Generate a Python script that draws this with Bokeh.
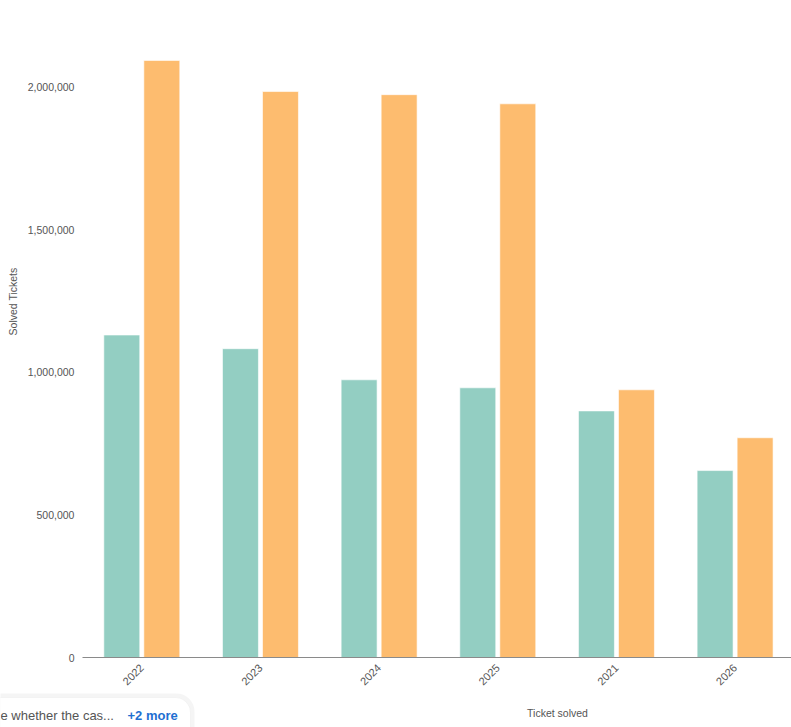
import math
from bokeh.plotting import figure
from bokeh.models import (ColumnDataSource, Range1d, FixedTicker, LinearAxis,
                          NumeralTickFormatter, Label, BoxAnnotation)
from bokeh.transform import dodge
from bokeh.embed import file_html
from bokeh.resources import INLINE

# ---- data ----
years = ["2022", "2023", "2024", "2025", "2021", "2026"]
series_a = [1131000, 1083000, 974000, 946000, 865000, 656000]
series_b = [2093000, 1984000, 1973000, 1941000, 939000, 771000]
y_ticks = [0, 500000, 1000000, 1500000, 2000000]

TEAL = "#93CEC2"
ORANGE = "#FDBC6F"
FONT = "Liberation Sans"

idx = list(range(len(years)))
source = ColumnDataSource(dict(idx=idx, year=years, a=series_a, b=series_b))

X0, X1 = -1.1908, 5.4753
p = figure(width=791, height=727, x_range=Range1d(X0, X1),
           y_range=Range1d(-244200, 2303000), output_backend="svg",
           toolbar_location=None, min_border=0,
           x_axis_type=None, y_axis_type=None)
p.outline_line_color = None
p.background_fill_color = "white"

p.vbar(x=dodge("idx", -0.1686), top="a", width=0.303, source=source,
       fill_color=TEAL, line_color="white", line_alpha=0.6, line_width=1)
p.vbar(x=dodge("idx", 0.1686), top="b", width=0.303, source=source,
       fill_color=ORANGE, line_color="white", line_alpha=0.6, line_width=1)

# axes drawn at fixed places inside the full-size frame
yaxis = LinearAxis(ticker=FixedTicker(ticks=y_ticks),
                   formatter=NumeralTickFormatter(format="0,0"),
                   fixed_location=-0.5)
yaxis.axis_line_color = None
yaxis.major_tick_line_color = None
yaxis.minor_tick_line_color = None
yaxis.major_tick_out = 0
yaxis.major_tick_in = 0
yaxis.minor_tick_out = 0
yaxis.major_label_standoff = 8
yaxis.major_label_text_font = FONT
yaxis.major_label_text_font_size = "10.5px"
yaxis.major_label_text_color = "#555555"
p.add_layout(yaxis, "left")

xaxis = LinearAxis(ticker=FixedTicker(ticks=idx),
                   major_label_overrides={i: y for i, y in zip(idx, years)},
                   fixed_location=0, bounds=(-0.5, X1))
xaxis.axis_line_color = "#8a8a8a"
xaxis.axis_line_width = 1
xaxis.major_tick_line_color = None
xaxis.minor_tick_line_color = None
xaxis.major_label_orientation = math.pi / 4
xaxis.major_label_standoff = 2
xaxis.major_label_text_font = FONT
xaxis.major_label_text_font_size = "11px"
xaxis.major_label_text_color = "#555555"
p.add_layout(xaxis, "below")

# horizontal grid lines (only right of the value axis)
p.ygrid.grid_line_color = "#e6e6eb"
p.ygrid.ticker = FixedTicker(ticks=y_ticks)
p.ygrid.grid_line_width = 1
p.xgrid.grid_line_color = None
p.add_layout(BoxAnnotation(right=-0.5, fill_color="white", fill_alpha=1.0,
                           line_color=None, level="underlay"))

# axis titles
p.add_layout(Label(x=12.5, y=426, x_units="screen", y_units="screen",
                   text="Solved Tickets", angle=math.pi / 2,
                   text_align="center", text_baseline="middle",
                   text_font=FONT, text_font_size="10.5px",
                   text_color="#555555"))
p.add_layout(Label(x=557, y=15, x_units="screen", y_units="screen",
                   text="Ticket solved", text_align="center",
                   text_baseline="middle", text_font=FONT,
                   text_font_size="10.5px", text_color="#555555"))

# popup chip at bottom-left
p.add_layout(BoxAnnotation(left=-30, right=194, top=34, bottom=-30,
                           left_units="screen", right_units="screen",
                           top_units="screen", bottom_units="screen",
                           fill_color="#000000", fill_alpha=0.04,
                           line_color=None, border_radius=18))
p.add_layout(BoxAnnotation(left=-30, right=190, top=30, bottom=-30,
                           left_units="screen", right_units="screen",
                           top_units="screen", bottom_units="screen",
                           fill_color="white", fill_alpha=1.0,
                           line_color="#e4e4e4", line_width=1,
                           border_radius=15))
p.add_layout(Label(x=0, y=12, x_units="screen", y_units="screen",
                   text="e whether the cas...", text_align="left",
                   text_baseline="middle", text_font=FONT,
                   text_font_size="13px", text_color="#555555"))
p.add_layout(Label(x=127, y=12, x_units="screen", y_units="screen",
                   text="+2 more", text_align="left",
                   text_baseline="middle", text_font=FONT,
                   text_font_size="13px", text_font_style="bold",
                   text_color="#1f6fd1"))

open("out.html", "w").write(file_html(p, INLINE))
